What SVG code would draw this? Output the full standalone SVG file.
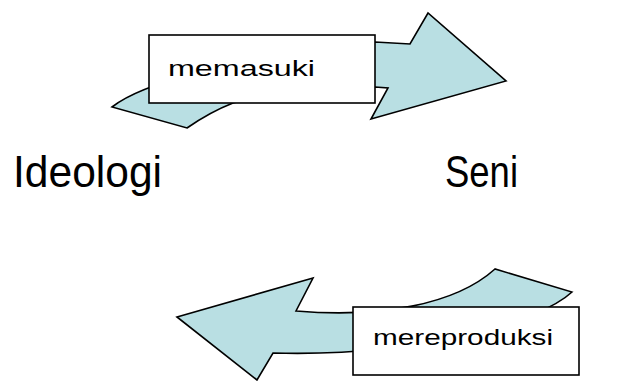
<svg xmlns="http://www.w3.org/2000/svg" width="627" height="381" viewBox="0 0 627 381">
<style>
.arrow{fill:#b9dfe3;stroke:#000;stroke-width:1.6;stroke-linejoin:miter}
.box{fill:#fff;stroke:#000;stroke-width:1.6}
.lbl{font-family:"Liberation Sans",Arial,sans-serif;font-size:22px;fill:#000}
.big{font-family:"Liberation Sans",Arial,sans-serif;font-size:45px;fill:#000}
</style>
<rect width="627" height="381" fill="#fff"/>
<g id="connectors">
<g id="arrow-memasuki">
<path class="arrow" d="M112,107 C140,85 220,60 375,42 L410,44 L428,13 L506,81 L371,119 L388,88 L375,87 C300,88 260,95 233,103 Q210,112 187,128 Z"/>
<rect class="box" x="149" y="35" width="226" height="68"/>
<text class="lbl" x="168" y="76" textLength="147" lengthAdjust="spacingAndGlyphs">memasuki</text>
</g>
<g id="arrow-mereproduksi">
<path class="arrow" d="M177,317 L313,278 L296,311 C380,318 455,305 495,269 L572,292 C540,322 420,357 273,353 L257,380 Z"/>
<rect class="box" x="353" y="307" width="226" height="68"/>
<text class="lbl" x="373" y="345" textLength="180" lengthAdjust="spacingAndGlyphs">mereproduksi</text>
</g>
</g>
<g id="node-ideologi">
<text class="big" x="13" y="187" textLength="149" lengthAdjust="spacingAndGlyphs">Ideologi</text>
</g>
<g id="node-seni">
<text class="big" x="445" y="187" textLength="73" lengthAdjust="spacingAndGlyphs">Seni</text>
</g>
</svg>
